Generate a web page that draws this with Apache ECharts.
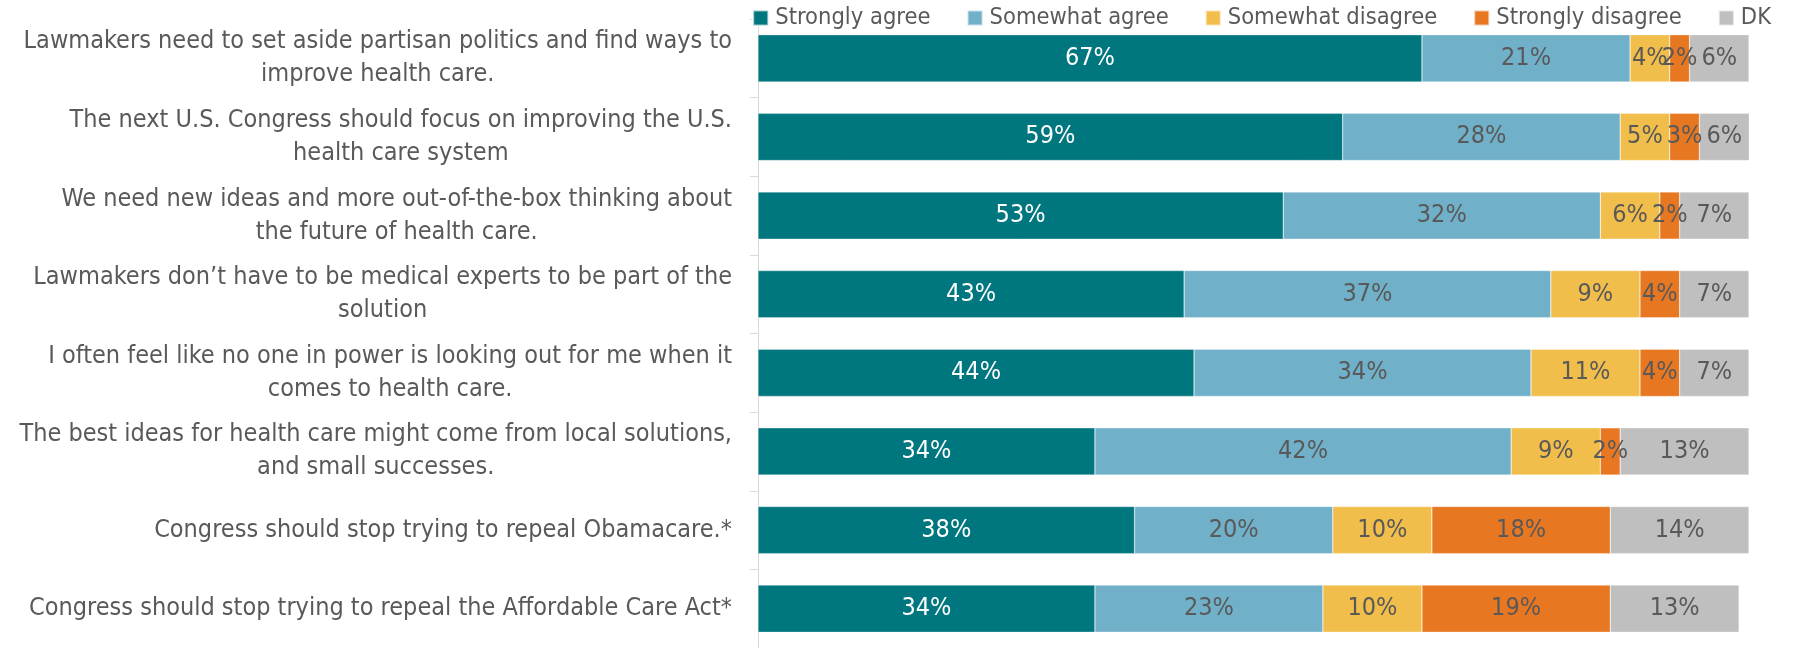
<!DOCTYPE html>
<html>
<head>
<meta charset="utf-8">
<script src="https://cdn.jsdelivr.net/npm/echarts@6/dist/echarts.min.js"></script>
<style>
  html, body { margin: 0; padding: 0; background: #fff; }
  #chart { width: 1793px; height: 648px; }
</style>
</head>
<body>
<div id="chart"></div>
<script>
// Survey statements, top to bottom
const statements = [
  'Lawmakers need to set aside partisan politics and find ways to\nimprove health care.',
  'The next U.S. Congress should focus on improving the U.S.\nhealth care system',
  'We need new ideas and more out-of-the-box thinking about\nthe future of health care.',
  'Lawmakers don\u2019t have to be medical experts to be part of the\nsolution',
  'I often feel like no one in power is looking out for me when it\ncomes to health care.',
  'The best ideas for health care might come from local solutions,\nand small successes.',
  'Congress should stop trying to repeal Obamacare.*',
  'Congress should stop trying to repeal the Affordable Care Act*'
];

const responseNames = ['Strongly agree', 'Somewhat agree', 'Somewhat disagree', 'Strongly disagree', 'DK'];

// Percent of respondents per statement
const stronglyAgree    = [67, 59, 53, 43, 44, 34, 38, 34];
const somewhatAgree    = [21, 28, 32, 37, 34, 42, 20, 23];
const somewhatDisagree = [4, 5, 6, 9, 11, 9, 10, 10];
const stronglyDisagree = [2, 3, 2, 4, 4, 2, 18, 19];
const dontKnow         = [6, 6, 7, 7, 7, 13, 14, 13];

const seriesValues = [stronglyAgree, somewhatAgree, somewhatDisagree, stronglyDisagree, dontKnow];
const colors = ['#00767F', '#71B0C9', '#F2BE4B', '#E87722', '#BFBFBF'];
const labelColors = ['#FFFFFF', '#595959', '#595959', '#595959', '#595959'];

const FONT = "'Liberation Sans Narrow', 'DejaVu Sans Condensed', sans-serif";

const chart = echarts.init(document.getElementById('chart'), null, { renderer: 'canvas' });

chart.setOption({
  animation: false,
  textStyle: { fontFamily: FONT },
  legend: {
    top: 1,
    right: 17,
    itemWidth: 15,
    itemHeight: 15,
    itemGap: 36,
    icon: 'rect',
    textStyle: { fontFamily: FONT, fontSize: 23.5, color: '#595959', padding: [0, 0, 0, 2] },
    data: responseNames
  },
  grid: { left: 758, right: 44, top: 19, bottom: 0, containLabel: false },
  xAxis: {
    type: 'value',
    min: 0,
    max: 100,
    show: false
  },
  yAxis: {
    type: 'category',
    inverse: true,
    data: statements,
    axisLine: { show: true, lineStyle: { color: '#D9D9D9', width: 1 } },
    axisTick: { show: true, length: 8, lineStyle: { color: '#D9D9D9' } },
    axisLabel: {
      margin: 26,
      align: 'right',
      fontFamily: FONT,
      fontSize: 25,
      color: '#595959',
      lineHeight: 33,
      formatter: v => v.split('\n').map(s => '{c|' + s + '}').join('\n'),
      rich: { c: { align: 'center', fontFamily: FONT, fontSize: 25, color: '#595959', lineHeight: 33 } }
    }
  },
  series: seriesValues.map((vals, i) => ({
    name: responseNames[i],
    type: 'bar',
    stack: 'total',
    barCategoryGap: '40%',
    data: vals,
    itemStyle: { color: colors[i], borderColor: 'rgba(255,255,255,0.6)', borderWidth: 0.5 },
    label: {
      show: true,
      position: 'inside',
      formatter: p => p.value + '%',
      fontFamily: FONT,
      fontSize: 25,
      color: labelColors[i]
    }
  }))
});
</script>
</body>
</html>
